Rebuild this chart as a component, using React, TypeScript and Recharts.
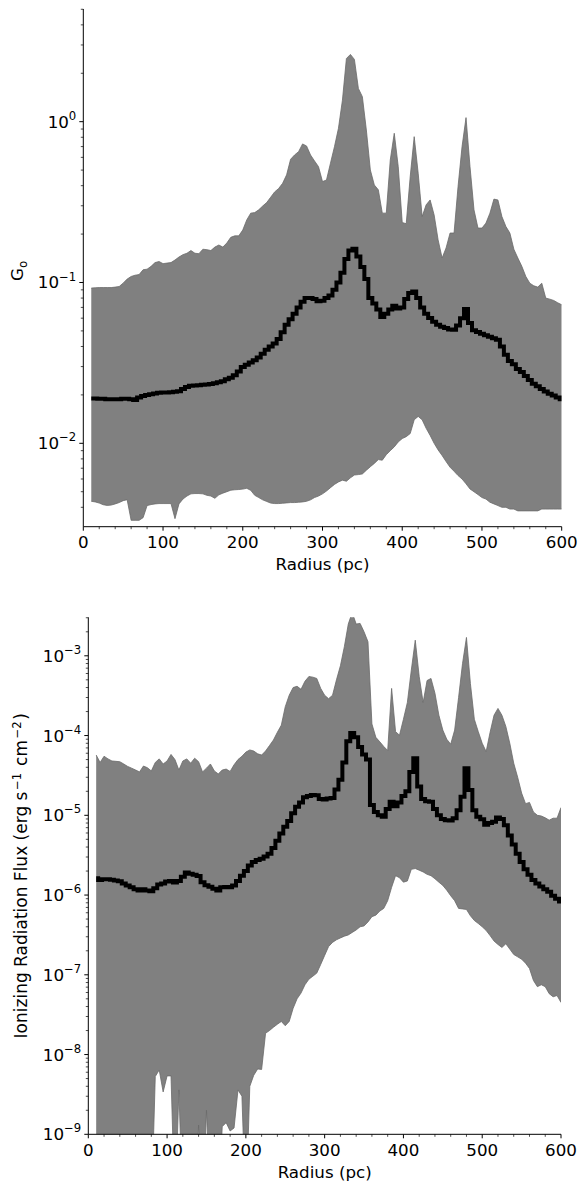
import React from 'react';
import { ComposedChart, Area, Line, XAxis, YAxis } from 'recharts';

// radial bins (pc)
const radius = [
  10, 15, 20, 25, 30, 35, 40, 45, 50, 55,
  60, 65, 70, 75, 80, 85, 90, 95, 100, 105,
  110, 115, 120, 125, 130, 135, 140, 145, 150, 155,
  160, 165, 170, 175, 180, 185, 190, 195, 200, 205,
  210, 215, 220, 225, 230, 235, 240, 245, 250, 255,
  260, 265, 270, 275, 280, 285, 290, 295, 300, 305,
  310, 315, 320, 325, 330, 335, 340, 345, 350, 355,
  360, 365, 370, 375, 380, 385, 390, 395, 400, 405,
  410, 415, 420, 425, 430, 435, 440, 445, 450, 455,
  460, 465, 470, 475, 480, 485, 490, 495, 500, 505,
  510, 515, 520, 525, 530, 535, 540, 545, 550, 555,
  560, 565, 570, 575, 580, 585, 590, 595, 600,
];

// G0 envelope and mean
const g0Max = [
  0.0923, 0.0927, 0.093, 0.093, 0.093, 0.093, 0.0936, 0.0944, 0.0991, 0.105,
  0.109, 0.111, 0.112, 0.12, 0.121, 0.126, 0.133, 0.135, 0.131, 0.132,
  0.133, 0.138, 0.144, 0.149, 0.152, 0.158, 0.152, 0.151, 0.161, 0.16,
  0.158, 0.166, 0.171, 0.166, 0.176, 0.191, 0.195, 0.195, 0.212, 0.245,
  0.27, 0.272, 0.283, 0.299, 0.314, 0.339, 0.366, 0.384, 0.414, 0.467,
  0.584, 0.621, 0.651, 0.727, 0.706, 0.621, 0.57, 0.525, 0.424, 0.434,
  0.552, 0.699, 0.909, 1.36, 2.47, 2.62, 2.44, 1.61, 1.43, 0.888,
  0.501, 0.404, 0.377, 0.27, 0.27, 0.578, 0.847, 0.525, 0.236, 0.232,
  0.455, 0.807, 0.478, 0.257, 0.304, 0.326, 0.263, 0.184, 0.142, 0.164,
  0.203, 0.203, 0.395, 0.699, 1.06, 0.525, 0.283, 0.218, 0.218, 0.234,
  0.27, 0.33, 0.326, 0.257, 0.223, 0.203, 0.161, 0.142, 0.126, 0.109,
  0.099, 0.0954, 0.0936, 0.099, 0.08, 0.0788, 0.0773, 0.0748, 0.0727,
];
const g0Min = [
  0.00436, 0.00432, 0.00425, 0.00415, 0.00411, 0.00413, 0.0042, 0.00428, 0.0044, 0.00446,
  0.00332, 0.00332, 0.00332, 0.00345, 0.0041, 0.00416, 0.0042, 0.00422, 0.00422, 0.00422,
  0.00422, 0.0034, 0.0042, 0.0045, 0.0047, 0.00485, 0.00487, 0.00487, 0.00485, 0.00475,
  0.0047, 0.00455, 0.00478, 0.0049, 0.005, 0.00511, 0.00514, 0.00516, 0.00519, 0.00525,
  0.0051, 0.00475, 0.0046, 0.00445, 0.00435, 0.00425, 0.00422, 0.00422, 0.00424, 0.00426,
  0.00428, 0.00428, 0.0043, 0.00432, 0.00436, 0.00445, 0.0046, 0.0047, 0.00485, 0.00505,
  0.0053, 0.00555, 0.00575, 0.0059, 0.00581, 0.0061, 0.00635, 0.00639, 0.00645, 0.0068,
  0.00715, 0.0075, 0.00792, 0.00785, 0.0085, 0.009, 0.0095, 0.0102, 0.0107, 0.011,
  0.0115, 0.014, 0.0147, 0.014, 0.0124, 0.0112, 0.01, 0.0091, 0.0084, 0.0077,
  0.0071, 0.0067, 0.0063, 0.006, 0.0056, 0.0052, 0.005, 0.0048, 0.0046, 0.0045,
  0.0043, 0.0042, 0.0041, 0.004, 0.004, 0.0039, 0.0039, 0.0038, 0.0038, 0.0038,
  0.0038, 0.0038, 0.0038, 0.0039, 0.0039, 0.0039, 0.0039, 0.0039, 0.0039,
];
const g0Mean = [
  0.019, 0.019, 0.0189, 0.0189, 0.0188, 0.0188, 0.0188, 0.0188, 0.0189, 0.0189,
  0.0188, 0.0186, 0.0193, 0.0197, 0.02, 0.0202, 0.0204, 0.0206, 0.0207, 0.0207,
  0.0208, 0.0209, 0.0211, 0.0218, 0.0224, 0.0228, 0.0229, 0.023, 0.0231, 0.0232,
  0.0234, 0.0236, 0.024, 0.0243, 0.025, 0.0256, 0.0265, 0.028, 0.0298, 0.0308,
  0.0318, 0.0328, 0.0342, 0.036, 0.0382, 0.04, 0.0418, 0.0445, 0.049, 0.0546,
  0.059, 0.064, 0.07, 0.076, 0.08, 0.08, 0.079, 0.0765, 0.077, 0.08,
  0.083, 0.09, 0.1, 0.115, 0.14, 0.158, 0.162, 0.145, 0.125, 0.105,
  0.08, 0.074, 0.068, 0.061, 0.064, 0.068, 0.0716, 0.069, 0.07, 0.079,
  0.086, 0.088, 0.08, 0.07, 0.064, 0.0601, 0.057, 0.0546, 0.053, 0.0521,
  0.051, 0.0508, 0.054, 0.06, 0.0684, 0.056, 0.0505, 0.0492, 0.048, 0.047,
  0.046, 0.045, 0.044, 0.04, 0.0355, 0.0325, 0.031, 0.029, 0.0278, 0.0262,
  0.0248, 0.0235, 0.0226, 0.0218, 0.021, 0.0203, 0.0198, 0.0193, 0.0188,
];

// ionizing flux envelope and mean (erg s^-1 cm^-2); 1e-10 = below the axis
const fluxMax = [
  5.7e-5, 4.6e-5, 5.5e-5, 5.1e-5, 4.8e-5, 4.75e-5, 4.7e-5, 4.4e-5, 4.1e-5, 3.9e-5,
  3.7e-5, 3.5e-5, 4.15e-5, 3.95e-5, 3.6e-5, 4.6e-5, 5.1e-5, 4.4e-5, 4.8e-5, 5.8e-5,
  5.0e-5, 3.7e-5, 4.8e-5, 5.1e-5, 4.5e-5, 5.2e-5, 4.7e-5, 3.5e-5, 3.9e-5, 4.4e-5,
  3.6e-5, 3.3e-5, 3.7e-5, 3.8e-5, 3.55e-5, 4.3e-5, 5.0e-5, 5.5e-5, 6.2e-5, 6.6e-5,
  6.4e-5, 5.9e-5, 5.7e-5, 6.4e-5, 7.5e-5, 8.8e-5, 1.1e-4, 1.35e-4, 2.3e-4, 3.2e-4,
  4.0e-4, 4.15e-4, 3.8e-4, 4.8e-4, 5.5e-4, 5.4e-4, 5.2e-4, 3.9e-4, 3.2e-4, 2.9e-4,
  3.2e-4, 5.0e-4, 7.5e-4, 1.3e-3, 2.5e-3, 3.5e-3, 2.5e-3, 2.55e-3, 2.0e-3, 1.5e-3,
  1.4e-4, 9.5e-5, 8.35e-5, 7.3e-5, 6.5e-5, 3.9e-4, 1.12e-4, 1.01e-4, 1.6e-4, 2.6e-4,
  6.6e-4, 1.57e-3, 5.5e-4, 2.6e-4, 4.9e-4, 5.2e-4, 3.4e-4, 1.8e-4, 1.17e-4, 9.0e-5,
  7.8e-5, 1.17e-4, 3.0e-4, 8.0e-4, 1.7e-3, 4.5e-4, 1.6e-4, 1.12e-4, 8.0e-5, 6.3e-5,
  1.1e-4, 1.8e-4, 2.19e-4, 1.8e-4, 1.3e-4, 8.0e-5, 4.5e-5, 3.0e-5, 1.9e-5, 1.4e-5,
  1.45e-5, 1.1e-5, 1.0e-5, 9.8e-6, 9.3e-6, 8.7e-6, 9.2e-6, 9.2e-6, 1.25e-5,
];
const fluxMin = [
  1e-10, 1e-10, 1e-10, 1e-10, 1e-10, 1e-10, 1e-10, 1e-10, 1e-10, 1e-10,
  1e-10, 1e-10, 1e-10, 1e-10, 1e-10, 5.3e-9, 6.4e-9, 3.4e-9, 5.4e-9, 5.4e-9,
  1e-10, 3.6e-9, 1e-10, 1e-10, 1e-10, 1e-10, 1.3e-9, 1e-10, 2.0e-9, 1e-10,
  1e-10, 1e-10, 1.25e-9, 1.4e-9, 1.1e-9, 1.2e-9, 3.6e-9, 3.0e-9, 1e-10, 4.0e-9,
  5.5e-9, 6.6e-9, 6.5e-9, 1.85e-8, 2.0e-8, 2.2e-8, 2.4e-8, 2.6e-8, 2.3e-8, 2.6e-8,
  3.8e-8, 5.0e-8, 5.9e-8, 7.5e-8, 8.8e-8, 9.6e-8, 1.05e-7, 1.35e-7, 1.75e-7, 2.26e-7,
  2.55e-7, 2.75e-7, 2.9e-7, 3.05e-7, 3.16e-7, 3.4e-7, 3.65e-7, 4.0e-7, 4.1e-7, 4.6e-7,
  5.36e-7, 5.6e-7, 6.3e-7, 6.8e-7, 8.5e-7, 1.25e-6, 1.75e-6, 1.65e-6, 1.45e-6, 1.5e-6,
  2.1e-6, 2.15e-6, 2.05e-6, 1.95e-6, 1.82e-6, 1.75e-6, 1.6e-6, 1.45e-6, 1.32e-6, 1.15e-6,
  9.8e-7, 8.5e-7, 6.8e-7, 6.7e-7, 6.6e-7, 5.5e-7, 4.8e-7, 4.4e-7, 4.0e-7, 3.6e-7,
  3.1e-7, 2.65e-7, 2.4e-7, 2.2e-7, 2.45e-7, 2.1e-7, 1.8e-7, 1.68e-7, 1.57e-7, 1.4e-7,
  1.2e-7, 8.5e-8, 7.1e-8, 7.5e-8, 7.1e-8, 5.8e-8, 5.3e-8, 5.5e-8, 4.5e-8,
];
const fluxMean = [
  1.62e-6, 1.55e-6, 1.58e-6, 1.58e-6, 1.56e-6, 1.52e-6, 1.49e-6, 1.4e-6, 1.32e-6, 1.25e-6,
  1.18e-6, 1.14e-6, 1.18e-6, 1.14e-6, 1.12e-6, 1.22e-6, 1.36e-6, 1.4e-6, 1.48e-6, 1.5e-6,
  1.44e-6, 1.5e-6, 1.7e-6, 1.92e-6, 1.85e-6, 1.8e-6, 1.73e-6, 1.45e-6, 1.33e-6, 1.27e-6,
  1.2e-6, 1.14e-6, 1.25e-6, 1.26e-6, 1.25e-6, 1.32e-6, 1.5e-6, 1.75e-6, 2.0e-6, 2.35e-6,
  2.6e-6, 2.75e-6, 2.85e-6, 3.05e-6, 3.3e-6, 3.9e-6, 4.8e-6, 5.9e-6, 7.2e-6, 8.5e-6,
  1.06e-5, 1.28e-5, 1.45e-5, 1.68e-5, 1.75e-5, 1.8e-5, 1.78e-5, 1.6e-5, 1.58e-5, 1.62e-5,
  1.65e-5, 2.1e-5, 2.8e-5, 4.6e-5, 8.5e-5, 1.08e-4, 9.5e-5, 7.2e-5, 5.8e-5, 5.0e-5,
  1.35e-5, 1.1e-5, 1.0e-5, 9.6e-6, 1.2e-5, 1.48e-5, 1.3e-5, 1.45e-5, 1.75e-5, 2.0e-5,
  3.5e-5, 5.2e-5, 2.3e-5, 1.6e-5, 1.5e-5, 1.48e-5, 1.2e-5, 1.0e-5, 9.0e-6, 8.7e-6,
  8.6e-6, 9.2e-6, 1.16e-5, 1.71e-5, 3.88e-5, 2.07e-5, 1.16e-5, 9.6e-6, 8.9e-6, 7.6e-6,
  8.0e-6, 8.3e-6, 9.4e-6, 9.0e-6, 7.5e-6, 5.6e-6, 4.3e-6, 3.3e-6, 2.6e-6, 2.1e-6,
  1.8e-6, 1.55e-6, 1.4e-6, 1.28e-6, 1.18e-6, 1.1e-6, 9.8e-7, 9.0e-7, 8.3e-7,
];

const xTicks = [0, 20, 40, 60, 80, 100, 120, 140, 160, 180, 200, 220, 240, 260, 280, 300,
  320, 340, 360, 380, 400, 420, 440, 460, 480, 500, 520, 540, 560, 580, 600];
const g0Decades = [0.001, 0.01, 0.1, 1];
const fluxDecades = [1e-9, 1e-8, 1e-7, 1e-6, 1e-5, 1e-4, 1e-3];
const g0Domain = [0.00303, 5.02];
const fluxDomain = [1e-9, 3.04e-3];

const FONT = 'DejaVu Sans';
const FS = 16.7;
const SUP = 11.7;
const FILL = '#808080';

// 1..9 per decade, like matplotlib's log locator
const logTicks = (decades: number[], lo: number, hi: number) =>
  decades
    .flatMap((d) => [1, 2, 3, 4, 5, 6, 7, 8, 9].map((m) => m * d))
    .filter((v) => v >= lo * 0.9999 && v <= hi * 1.0001);

const g0Data = radius.map((r, i) => ({ r, band: [g0Min[i], g0Max[i]], mean: g0Mean[i] }));
const fluxData = radius.map((r, i) => ({ r, band: [fluxMin[i], fluxMax[i]], mean: fluxMean[i] }));

const sup = (e: number) => (e < 0 ? '\u2212' + -e : String(e));

const YTick = (props: any) => {
  const { x, y, payload } = props;
  const lg = Math.log10(payload.value);
  const e = Math.round(lg);
  const major = Math.abs(lg - e) < 1e-6;
  return (
    <g>
      <line x1={x} x2={x - (major ? 4 : 2.5)} y1={y} y2={y} stroke="#000" strokeWidth={major ? 1 : 0.7} />
      {major && (
        <text x={x - 7} y={y + 6} textAnchor="end" fontFamily={FONT} fontSize={FS} fill="#000">
          10
          <tspan dy={-7.9} fontSize={SUP}>{sup(e)}</tspan>
        </text>
      )}
    </g>
  );
};

const XTick = (props: any) => {
  const { x, y, payload } = props;
  const major = payload.value % 100 === 0;
  return (
    <g>
      <line x1={x} x2={x} y1={y} y2={y + (major ? 4 : 2.5)} stroke="#000" strokeWidth={major ? 1 : 0.7} />
      {major && (
        <text x={x} y={y + 21.6} textAnchor="middle" fontFamily={FONT} fontSize={FS} fill="#000">
          {payload.value}
        </text>
      )}
    </g>
  );
};

const radiusLabel = (props: any) => {
  const vb = props.viewBox || {};
  return (
    <text x={vb.x + vb.width / 2} y={vb.y + 43.4} textAnchor="middle" fontFamily={FONT} fontSize={FS} fill="#000">
      Radius (pc)
    </text>
  );
};

const g0Label = (props: any) => {
  const vb = props.viewBox || {};
  const cy = vb.y + vb.height / 2 + 3;
  return (
    <text x={23.3} y={cy} transform={`rotate(-90, 23.3, ${cy})`} textAnchor="middle" fontFamily={FONT} fontSize={FS} fill="#000">
      G<tspan dy={3.5} fontSize={SUP}>o</tspan>
    </text>
  );
};

const fluxLabel = (props: any) => {
  const vb = props.viewBox || {};
  const cy = vb.y + vb.height / 2;
  return (
    <text x={27.3} y={cy} transform={`rotate(-90, 27.3, ${cy})`} textAnchor="middle" fontFamily={FONT} fontSize={17} fill="#000">
      Ionizing Radiation Flux (erg s
      <tspan dx={1.5} dy={-6.8} fontSize={SUP}>{'\u22121'}</tspan>
      <tspan dx={1.5} dy={6.8}> cm</tspan>
      <tspan dx={1.5} dy={-6.8} fontSize={SUP}>{'\u22122'}</tspan>
      <tspan dx={1.5} dy={6.8}>)</tspan>
    </text>
  );
};

interface PanelProps {
  data: { r: number; band: number[]; mean: number }[];
  height: number;
  top: number;
  left: number;
  right: number;
  bottom: number;
  domain: number[];
  ticks: number[];
  label: (props: any) => React.ReactNode;
}

function Panel({ data, height, top, left, right, bottom, domain, ticks, label }: PanelProps) {
  return (
    <ComposedChart width={579} height={height} data={data} margin={{ top, right, bottom: 0, left: 0 }}>
      <Area
        dataKey="band"
        type="linear"
        fill={FILL}
        fillOpacity={1}
        stroke="#6a6a6a"
        strokeWidth={0.8}
        dot={false}
        activeDot={false}
        isAnimationActive={false}
      />
      <Line
        dataKey="mean"
        type="step"
        stroke="#000"
        strokeWidth={4}
        dot={false}
        activeDot={false}
        isAnimationActive={false}
      />
      <XAxis
        dataKey="r"
        type="number"
        domain={[0, 600]}
        ticks={xTicks}
        interval={0}
        allowDataOverflow
        height={bottom}
        tickSize={0}
        tickMargin={0}
        tickLine={false}
        tick={(p: any) => <XTick {...p} />}
        axisLine={{ stroke: '#000', strokeWidth: 1 }}
        label={radiusLabel}
      />
      <XAxis xAxisId="top" orientation="top" type="number" domain={[0, 600]} height={0} tick={false} tickLine={false} axisLine={{ stroke: '#000', strokeWidth: 1 }} />
      <YAxis
        type="number"
        scale="log"
        domain={domain}
        ticks={ticks}
        interval={0}
        allowDataOverflow
        width={left}
        tickSize={0}
        tickMargin={0}
        tickLine={false}
        tick={(p: any) => <YTick {...p} />}
        axisLine={{ stroke: '#000', strokeWidth: 1 }}
        label={label}
      />
      <YAxis yAxisId="right" orientation="right" type="number" domain={[0, 1]} width={0} tick={false} tickLine={false} axisLine={{ stroke: '#000', strokeWidth: 1 }} />
    </ComposedChart>
  );
}

export default function App() {
  return (
    <div style={{ position: 'absolute', left: 0, top: 0, width: 579, height: 1182, background: '#fff' }}>
      <Panel
        data={g0Data}
        height={590}
        top={9}
        left={83.3}
        right={17.3}
        bottom={63.3}
        domain={g0Domain}
        ticks={logTicks(g0Decades, g0Domain[0], g0Domain[1])}
        label={g0Label}
      />
      <Panel
        data={fluxData}
        height={592}
        top={27.3}
        left={88.3}
        right={18}
        bottom={47.7}
        domain={fluxDomain}
        ticks={logTicks(fluxDecades, fluxDomain[0], fluxDomain[1])}
        label={fluxLabel}
      />
    </div>
  );
}
